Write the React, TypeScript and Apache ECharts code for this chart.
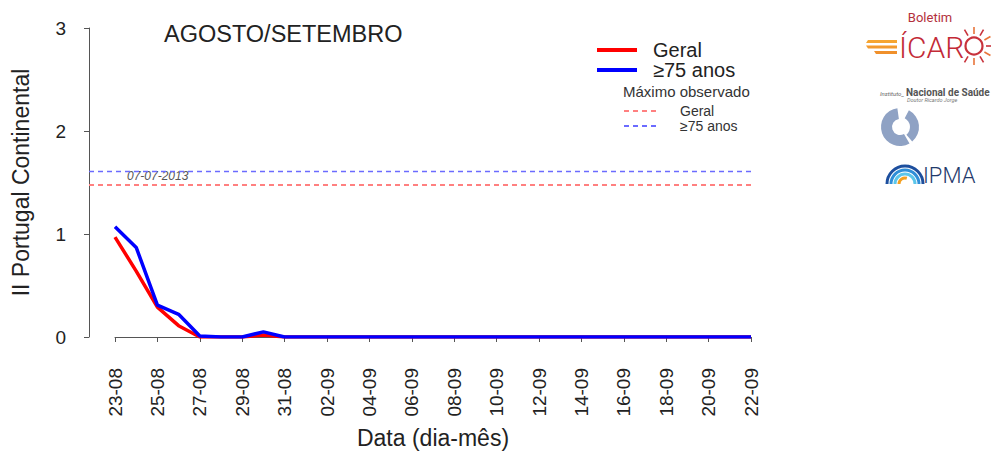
import React, { useEffect, useRef } from "react";
import * as echarts from "echarts";

const dates = [
  "23-08", "24-08", "25-08", "26-08", "27-08", "28-08", "29-08", "30-08", "31-08",
  "01-09", "02-09", "03-09", "04-09", "05-09", "06-09", "07-09", "08-09", "09-09",
  "10-09", "11-09", "12-09", "13-09", "14-09", "15-09", "16-09", "17-09", "18-09",
  "19-09", "20-09", "21-09", "22-09",
];
const geral = [0.97, 0.64, 0.29, 0.11, 0, 0, 0, 0.02, 0, 0, 0, 0, 0, 0, 0, 0, 0, 0, 0, 0, 0, 0, 0, 0, 0, 0, 0, 0, 0, 0, 0];
const idosos = [1.07, 0.87, 0.31, 0.22, 0.01, 0, 0, 0.05, 0, 0, 0, 0, 0, 0, 0, 0, 0, 0, 0, 0, 0, 0, 0, 0, 0, 0, 0, 0, 0, 0, 0];
const maxGeral = 1.5;
const maxIdosos = 1.63;
const maxDate = "07-07-2013";
const yMin = 0;
const yMax = 3;
const yInterval = 1;

const FONT = "'Liberation Sans', Arial, sans-serif";

export default function App() {
  const ref = useRef<HTMLDivElement>(null);
  useEffect(() => {
    document.body.style.margin = "0";
    const chart = echarts.init(ref.current!, null, { renderer: "svg" });
    const rays: any[] = [];
    const sunCx = 974, sunCy = 46;
    [-120, -90, -60, -30, 0, 30, 60, 90, 120].forEach((a, i) => {
      const rad = (a * Math.PI) / 180;
      rays.push({
        type: "line",
        shape: {
          x1: sunCx + 12 * Math.cos(rad), y1: sunCy + 12 * Math.sin(rad),
          x2: sunCx + 19 * Math.cos(rad), y2: sunCy + 19 * Math.sin(rad),
        },
        style: { stroke: i % 2 ? "#e8743a" : "#c8323c", lineWidth: 1.6 },
      });
    });
    chart.setOption({
      animation: false,
      textStyle: { fontFamily: FONT },
      title: {
        text: "AGOSTO/SETEMBRO",
        left: 159,
        top: 17,
        textStyle: { fontSize: 23.5, fontWeight: "normal", color: "#222", fontFamily: FONT },
      },
      legend: [
        {
          orient: "vertical",
          left: 597,
          top: 40,
          padding: 0,
          itemWidth: 40,
          itemHeight: 4,
          itemGap: 0,
          icon: "rect",
          data: ["Geral", "≥75 anos"],
          textStyle: { fontSize: 20, lineHeight: 20, color: "#222", padding: [0, 0, 0, 11], fontFamily: FONT },
          selectedMode: false,
        },
        {
          orient: "vertical",
          left: 623,
          top: 104,
          padding: 0,
          itemWidth: 32,
          itemHeight: 10,
          itemGap: 1,
          data: ["Máx. Geral", "Máx. ≥75 anos"],
          formatter: (n: string) => n.replace("Máx. ", ""),
          itemStyle: { color: "transparent", borderWidth: 0, opacity: 0 },
          textStyle: { fontSize: 14, lineHeight: 14, color: "#333", padding: [0, 0, 0, 19], fontFamily: FONT },
          selectedMode: false,
        },
      ],
      grid: [
        { left: 115, right: 240, top: 28, bottom: 112 },
        { left: 89, right: 239, top: 28, bottom: 112 },
      ],
      xAxis: [
        {
          type: "category",
          gridIndex: 0,
          data: dates,
          boundaryGap: false,
          offset: 13,
          axisLine: { lineStyle: { color: "#555", width: 1 } },
          axisTick: { interval: 1, length: 5, lineStyle: { color: "#555" } },
          axisLabel: { interval: 1, rotate: 90, fontSize: 19, color: "#222", margin: 18, fontFamily: FONT },
          splitLine: { show: false },
          name: "Data (dia-mês)",
          nameLocation: "middle",
          nameGap: 76,
          nameTextStyle: { fontSize: 23, color: "#222", fontFamily: FONT },
        },
        { type: "value", gridIndex: 1, min: 0, max: 1, show: false },
      ],
      yAxis: [
        {
          type: "value",
          gridIndex: 0,
          min: yMin,
          max: yMax,
          interval: yInterval,
          offset: 26,
          axisLine: { show: true, lineStyle: { color: "#555", width: 1 } },
          axisTick: { show: true, length: 5, lineStyle: { color: "#555" } },
          axisLabel: { fontSize: 19, color: "#222", margin: 23, fontFamily: FONT },
          splitLine: { show: false },
          name: "II Portugal Continental",
          nameLocation: "middle",
          nameGap: 57,
          nameTextStyle: { fontSize: 23, color: "#222", fontFamily: FONT },
        },
        { type: "value", gridIndex: 1, min: yMin, max: yMax, show: false },
      ],
      series: [
        {
          name: "Máx. Geral",
          type: "line",
          xAxisIndex: 1,
          yAxisIndex: 1,
          data: [[0, maxGeral], [1, maxGeral]],
          symbol: "none",
          itemStyle: { color: "#ff8080" },
          lineStyle: { color: "#ff8080", width: 2, type: [5, 4] },
          silent: true,
        },
        {
          name: "Máx. ≥75 anos",
          type: "line",
          xAxisIndex: 1,
          yAxisIndex: 1,
          data: [[0, maxIdosos], [1, maxIdosos]],
          symbol: "none",
          itemStyle: { color: "#6b6bff" },
          lineStyle: { color: "#6b6bff", width: 1.5, type: [5, 4] },
          silent: true,
        },
        {
          name: "Geral",
          type: "line",
          data: geral,
          symbol: "none",
          itemStyle: { color: "#ff0000" },
          lineStyle: { color: "#ff0000", width: 3.5 },
          z: 3,
        },
        {
          name: "≥75 anos",
          type: "line",
          data: idosos,
          symbol: "none",
          itemStyle: { color: "#0000ff" },
          lineStyle: { color: "#0000ff", width: 3.5 },
          z: 4,
        },
      ],
      graphic: [
        {
          type: "text",
          left: 127,
          top: 170,
          style: { text: maxDate, font: `italic 12px ${FONT}`, fill: "#555" },
        },
        {
          type: "text",
          left: 623,
          top: 84,
          style: { text: "Máximo observado", font: `15px ${FONT}`, fill: "#333" },
        },
        // ÍCARO logo
        {
          type: "text",
          x: 930,
          y: 17,
          style: { text: "Boletim", font: "13px Roboto, sans-serif", fill: "#b3303c", align: "center", verticalAlign: "middle" },
        },
        {
          type: "text",
          x: 899,
          y: 47,
          style: { text: "ÍCAR", font: "300 30px Roboto, sans-serif", fill: "#c32a36", verticalAlign: "middle" },
        },
        {
          type: "circle",
          shape: { cx: sunCx, cy: sunCy, r: 8.5 },
          style: { fill: "none", stroke: "#c8323c", lineWidth: 2.2 },
        },
        ...rays,
        { type: "polygon", shape: { points: [[868, 40], [897, 40], [897, 43], [866, 43]] }, style: { fill: "#f6a531" } },
        { type: "polygon", shape: { points: [[866, 45.5], [897, 45.5], [897, 48.5], [868, 48.5]] }, style: { fill: "#f39a2e" } },
        { type: "polygon", shape: { points: [[874, 51], [897, 51], [897, 54], [876, 54]] }, style: { fill: "#f0902b" } },
        // INSA logo
        {
          type: "text",
          x: 880,
          y: 93,
          style: { text: "Instituto_", font: "italic 6px Roboto, sans-serif", fill: "#666", verticalAlign: "middle" },
        },
        {
          type: "text",
          x: 906,
          y: 92,
          style: { text: "Nacional de Saúde", font: "bold 10px Roboto, sans-serif", fill: "#555", verticalAlign: "middle" },
        },
        {
          type: "text",
          x: 907,
          y: 100,
          style: { text: "Doutor Ricardo Jorge", font: "italic 5.5px Roboto, sans-serif", fill: "#777", verticalAlign: "middle" },
        },
        {
          type: "sector",
          shape: { cx: 900, cy: 127, r: 19, r0: 8, startAngle: (60 * Math.PI) / 180, endAngle: (262 * Math.PI) / 180, clockwise: true },
          style: { fill: "#8fa2c4" },
        },
        {
          type: "sector",
          shape: { cx: 900, cy: 127, r: 19, r0: 10, startAngle: (-62 * Math.PI) / 180, endAngle: (50 * Math.PI) / 180, clockwise: true },
          style: { fill: "#8fa2c4" },
        },
        // IPMA logo
        { type: "arc", shape: { cx: 905, cy: 184, r: 18, startAngle: Math.PI, endAngle: 2 * Math.PI, clockwise: true }, style: { stroke: "#1d4f9e", lineWidth: 3, fill: "none" } },
        { type: "arc", shape: { cx: 905, cy: 184, r: 14, startAngle: Math.PI, endAngle: 2 * Math.PI, clockwise: true }, style: { stroke: "#2f8fd8", lineWidth: 3, fill: "none" } },
        { type: "arc", shape: { cx: 905, cy: 184, r: 10, startAngle: Math.PI, endAngle: 2 * Math.PI, clockwise: true }, style: { stroke: "#5cc6ea", lineWidth: 3, fill: "none" } },
        { type: "arc", shape: { cx: 905, cy: 184, r: 6, startAngle: Math.PI, endAngle: 1.6 * Math.PI, clockwise: true }, style: { stroke: "#f4a020", lineWidth: 3, fill: "none" } },
        {
          type: "text",
          x: 923,
          y: 175,
          style: { text: "IPMA", font: "300 22px Roboto, sans-serif", fill: "#1f3a6b", verticalAlign: "middle" },
        },
      ],
    });
    return () => chart.dispose();
  }, []);
  return <div ref={ref} style={{ width: 991, height: 454 }} />;
}
